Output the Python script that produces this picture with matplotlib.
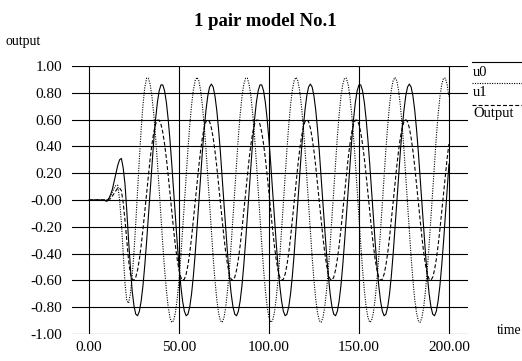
import matplotlib
matplotlib.use("Agg")
import matplotlib.pyplot as plt
from matplotlib.lines import Line2D

plt.rcParams['font.family'] = ['Liberation Serif', 'DejaVu Serif']

# time axis (one sample per unit)
t = list(range(0, 201))

u0 = [0, 0, 0, 0, 0, 0, 0, 0, 0, -0.005,
      -0.01, 0.01, 0.04, 0.08, 0.14, 0.20, 0.26, 0.30, 0.31, 0.24,
      0.12, -0.08, -0.30, -0.50, -0.68, -0.79, -0.852, -0.864, -0.830, -0.753,
      -0.638, -0.488, -0.314, -0.123, 0.074, 0.267, 0.447, 0.603, 0.728, 0.815,
      0.859, 0.859, 0.815, 0.728, 0.603, 0.447, 0.267, 0.074, -0.123, -0.314,
      -0.488, -0.638, -0.753, -0.830, -0.864, -0.852, -0.797, -0.700, -0.567, -0.404,
      -0.220, -0.025, 0.172, 0.359, 0.528, 0.670, 0.776, 0.843, 0.865, 0.843,
      0.776, 0.670, 0.528, 0.359, 0.172, -0.025, -0.220, -0.404, -0.567, -0.700,
      -0.797, -0.852, -0.864, -0.830, -0.753, -0.638, -0.488, -0.314, -0.123, 0.074,
      0.267, 0.447, 0.603, 0.728, 0.815, 0.859, 0.859, 0.815, 0.728, 0.603,
      0.447, 0.267, 0.074, -0.123, -0.314, -0.488, -0.638, -0.753, -0.830, -0.864,
      -0.852, -0.797, -0.700, -0.567, -0.404, -0.220, -0.025, 0.172, 0.359, 0.528,
      0.670, 0.776, 0.843, 0.865, 0.843, 0.776, 0.670, 0.528, 0.359, 0.172,
      -0.025, -0.220, -0.404, -0.567, -0.700, -0.797, -0.852, -0.864, -0.830, -0.753,
      -0.638, -0.488, -0.314, -0.123, 0.074, 0.267, 0.447, 0.603, 0.728, 0.815,
      0.859, 0.859, 0.815, 0.728, 0.603, 0.447, 0.267, 0.074, -0.123, -0.314,
      -0.488, -0.638, -0.753, -0.830, -0.864, -0.852, -0.797, -0.700, -0.567, -0.404,
      -0.220, -0.025, 0.172, 0.359, 0.528, 0.670, 0.776, 0.843, 0.865, 0.843,
      0.776, 0.670, 0.528, 0.359, 0.172, -0.025, -0.220, -0.404, -0.567, -0.700,
      -0.797, -0.852, -0.864, -0.830, -0.753, -0.638, -0.488, -0.314, -0.123, 0.074,
      0.267]

u1 = [0, 0, 0, 0, 0, 0, 0, 0, 0, 0,
      0, 0.01, 0.03, 0.06, 0.09, 0.11, 0.11, 0.0, -0.17, -0.40,
      -0.62, -0.75, -0.77, -0.70, -0.57, -0.39, -0.17, 0.07, 0.31, 0.53,
      0.71, 0.84, 0.909, 0.909, 0.862, 0.770, 0.638, 0.472, 0.283, 0.078,
      -0.130, -0.332, -0.517, -0.674, -0.797, -0.878, -0.913, -0.901, -0.843, -0.740,
      -0.599, -0.427, -0.232, -0.026, 0.182, 0.381, 0.559, 0.708, 0.821, 0.891,
      0.915, 0.891, 0.821, 0.708, 0.559, 0.381, 0.182, -0.026, -0.232, -0.427,
      -0.599, -0.740, -0.843, -0.901, -0.913, -0.878, -0.797, -0.674, -0.517, -0.332,
      -0.130, 0.078, 0.283, 0.472, 0.638, 0.770, 0.862, 0.909, 0.909, 0.862,
      0.770, 0.638, 0.472, 0.283, 0.078, -0.130, -0.332, -0.517, -0.674, -0.797,
      -0.878, -0.913, -0.901, -0.843, -0.740, -0.599, -0.427, -0.232, -0.026, 0.182,
      0.381, 0.559, 0.708, 0.821, 0.891, 0.915, 0.891, 0.821, 0.708, 0.559,
      0.381, 0.182, -0.026, -0.232, -0.427, -0.599, -0.740, -0.843, -0.901, -0.913,
      -0.878, -0.797, -0.674, -0.517, -0.332, -0.130, 0.078, 0.283, 0.472, 0.638,
      0.770, 0.862, 0.909, 0.909, 0.862, 0.770, 0.638, 0.472, 0.283, 0.078,
      -0.130, -0.332, -0.517, -0.674, -0.797, -0.878, -0.913, -0.901, -0.843, -0.740,
      -0.599, -0.427, -0.232, -0.026, 0.182, 0.381, 0.559, 0.708, 0.821, 0.891,
      0.915, 0.891, 0.821, 0.708, 0.559, 0.381, 0.182, -0.026, -0.232, -0.427,
      -0.599, -0.740, -0.843, -0.901, -0.913, -0.878, -0.797, -0.674, -0.517, -0.332,
      -0.130, 0.078, 0.283, 0.472, 0.638, 0.770, 0.862, 0.909, 0.909, 0.862,
      0.770]

output = [0, 0, 0, 0, 0, 0, 0, 0, 0, 0,
          0, 0.005, 0.01, 0.03, 0.05, 0.07, 0.09, 0.09, 0.07, -0.02,
          -0.15, -0.30, -0.45, -0.55, -0.59, -0.599, -0.576, -0.522, -0.442, -0.339,
          -0.218, -0.085, 0.051, 0.185, 0.310, 0.418, 0.505, 0.565, 0.596, 0.596,
          0.565, 0.505, 0.418, 0.310, 0.185, 0.051, -0.085, -0.218, -0.339, -0.442,
          -0.522, -0.576, -0.599, -0.591, -0.553, -0.485, -0.393, -0.280, -0.152, -0.017,
          0.119, 0.250, 0.366, 0.464, 0.538, 0.585, 0.600, 0.585, 0.538, 0.464,
          0.366, 0.250, 0.119, -0.017, -0.152, -0.280, -0.393, -0.485, -0.553, -0.591,
          -0.599, -0.576, -0.522, -0.442, -0.339, -0.218, -0.085, 0.051, 0.185, 0.310,
          0.418, 0.505, 0.565, 0.596, 0.596, 0.565, 0.505, 0.418, 0.310, 0.185,
          0.051, -0.085, -0.218, -0.339, -0.442, -0.522, -0.576, -0.599, -0.591, -0.553,
          -0.485, -0.393, -0.280, -0.152, -0.017, 0.119, 0.250, 0.366, 0.464, 0.538,
          0.585, 0.600, 0.585, 0.538, 0.464, 0.366, 0.250, 0.119, -0.017, -0.152,
          -0.280, -0.393, -0.485, -0.553, -0.591, -0.599, -0.576, -0.522, -0.442, -0.339,
          -0.218, -0.085, 0.051, 0.185, 0.310, 0.418, 0.505, 0.565, 0.596, 0.596,
          0.565, 0.505, 0.418, 0.310, 0.185, 0.051, -0.085, -0.218, -0.339, -0.442,
          -0.522, -0.576, -0.599, -0.591, -0.553, -0.485, -0.393, -0.280, -0.152, -0.017,
          0.119, 0.250, 0.366, 0.464, 0.538, 0.585, 0.600, 0.585, 0.538, 0.464,
          0.366, 0.250, 0.119, -0.017, -0.152, -0.280, -0.393, -0.485, -0.553, -0.591,
          -0.599, -0.576, -0.522, -0.442, -0.339, -0.218, -0.085, 0.051, 0.185, 0.310,
          0.418]

xticks = [0, 50, 100, 150, 200]
xlabels = ['0.00', '50.00', '100.00', '150.00', '200.00']
yticks = [1.0, 0.8, 0.6, 0.4, 0.2, 0.0, -0.2, -0.4, -0.6, -0.8, -1.0]
ylabels = ['1.00', '0.80', '0.60', '0.40', '0.20', '-0.00', '-0.20', '-0.40',
           '-0.60', '-0.80', '-1.00']

DOT = (0, (1, 1.2))
DASH = (0, (3.5, 2))

W, H = 522, 361
fig = plt.figure(figsize=(W / 100, H / 100), dpi=100)
ax = fig.add_axes([72 / W, 27 / H, 396 / W, 268 / H])

ax.plot(t, u0, color='black', lw=0.8)
ax.plot(t, u1, color='black', lw=0.8, ls=DOT)
ax.plot(t, output, color='black', lw=0.8, ls=DASH)

for y in yticks:
    ax.axhline(y, color='black', lw=0.8, zorder=0)
for x in xticks:
    ax.axvline(x, color='black', lw=0.8, zorder=0)

ax.set_xlim(-9.44, 210.6)
ax.set_ylim(-1.0, 1.0)
ax.set_xticks(xticks)
ax.set_xticklabels(xlabels, fontsize=11)
ax.set_yticks(yticks)
ax.set_yticklabels(ylabels, fontsize=11)
ax.tick_params(length=0)
ax.tick_params(axis='y', pad=7)
ax.tick_params(axis='x', pad=5)
for s in ax.spines.values():
    s.set_visible(False)

fig.text(265 / W, 1 - 21 / H, '1 pair model No.1', ha='center', va='center',
         fontsize=13.5, fontweight='bold')
fig.text(5 / W, 1 - 42 / H, 'output', ha='left', va='center', fontsize=10)
fig.text(497 / W, 1 - 331 / H, 'time', ha='left', va='center', fontsize=10)

# legend on the right: a line above each label
legend = [('u0', '-', 62, 72), ('u1', DOT, 83, 93), ('Output', DASH, 105, 114)]
for name, style, ly, ty in legend:
    fig.add_artist(Line2D([472 / W, 1.0], [1 - ly / H, 1 - ly / H],
                          transform=fig.transFigure, color='black', lw=0.8, ls=style))
    fig.text(473 / W, 1 - ty / H, name, ha='left', va='center', fontsize=10.5)

fig.savefig('out.png', dpi=100)
